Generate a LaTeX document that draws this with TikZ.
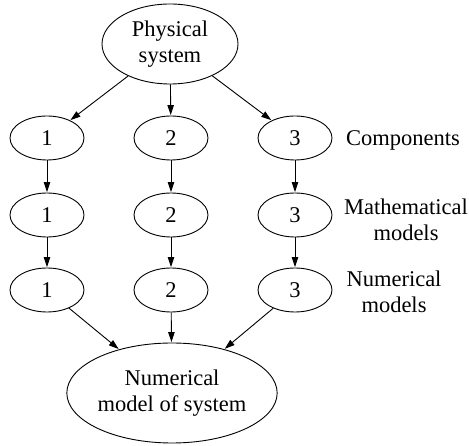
\documentclass[tikz,border=0pt]{standalone}
\usepackage{fontspec}
\setmainfont{Liberation Serif}
\usetikzlibrary{shapes.geometric,arrows.meta}
\tikzset{
  every node/.style={font=\fontsize{22.5}{26}\selectfont},
  oval/.style={draw, ellipse, line width=0.9pt, inner sep=0pt, align=center},
  small/.style={oval, minimum width=74pt, minimum height=44pt},
  lbl/.style={align=center},
  conn/.style={-{Triangle[length=10pt,width=6.5pt]}, line width=0.9pt, shorten >=0.5pt}
}
\begin{document}
\begin{tikzpicture}[x=1pt,y=1pt]
\useasboundingbox (0,0) rectangle (469,-446);
\node[oval, minimum width=136pt, minimum height=80pt] (top) at (170,-44) {Physical\\system};
\node[small] (c1) at (47,-138) {1};
\node[small] (c2) at (171,-138) {2};
\node[small] (c3) at (295,-138) {3};
\node[small] (m1) at (47,-215) {1};
\node[small] (m2) at (171,-215) {2};
\node[small] (m3) at (295,-215) {3};
\node[small] (n1) at (47,-290) {1};
\node[small] (n2) at (171,-290) {2};
\node[small] (n3) at (295,-290) {3};
\node[oval, minimum width=170pt, minimum height=100pt] (bot) at (172,-393) {Numerical\\model of system};
\node[lbl] (lc) at (403,-140) {Components};
\node[lbl] (lm) at (406,-220) {Mathematical\\models};
\node[lbl] (ln) at (394,-292) {Numerical\\models};
\draw[conn] (top) -- (c1);
\draw[conn] (top) -- (c2);
\draw[conn] (top) -- (c3);
\foreach \i in {1,2,3} {
  \draw[conn] (c\i) -- (m\i);
  \draw[conn] (m\i) -- (n\i);
  \draw[conn] (n\i) -- (bot);
}
\end{tikzpicture}
\end{document}
